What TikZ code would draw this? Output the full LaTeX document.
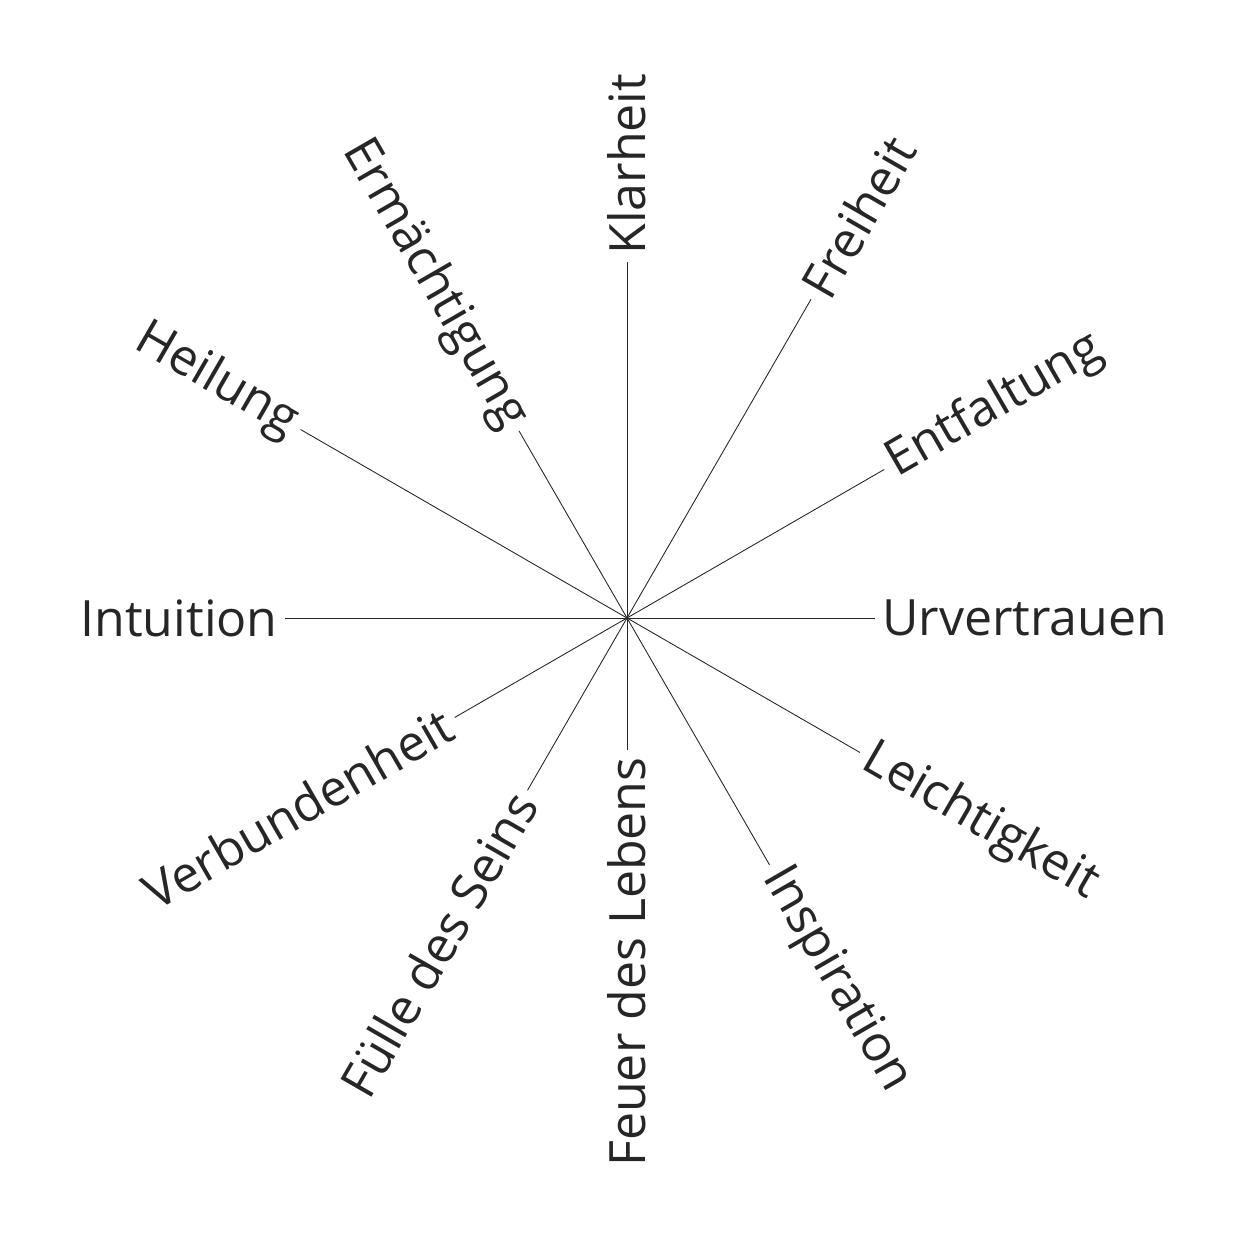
\documentclass[tikz,border=0pt]{standalone}
\usepackage{fontspec}
\setmainfont{Open Sans}
\usetikzlibrary{calc}
\tikzset{
  ray/.style={line width=0.5pt,black!85},
  word/.style={font=\fontsize{28.5}{34}\selectfont,text=black!85,inner sep=4pt},
}
\begin{document}
\begin{tikzpicture}[x=0.02cm,y=0.02cm]
    \useasboundingbox (0,0) rectangle (1250,1250);
    \coordinate (M) at (627,632);

    % right half: text reads outward
    \foreach \name/\ang/\len/\txt in {kla/90/356/Klarheit, fre/60/368/Freiheit,
        ent/30/297/Entfaltung, urv/0/248/Urvertrauen, lei/-30/269/Leichtigkeit,
        ins/-60/285/Inspiration}{
      \coordinate (e-\name) at ($(M)+(\ang:\len)$);
      \draw[ray] (M) -- (e-\name);
      \node[word,rotate=\ang,anchor=west] (t-\name) at (e-\name) {\txt};
    }

    % left half: text reads inward
    \foreach \name/\ang/\len/\txt in {feu/-90/132/Feuer des Lebens,
        fue/-120/199/Fülle des Seins, ver/-150/199/Verbundenheit,
        int/180/342/Intuition, hei/150/377/Heilung, erm/120/216/Ermächtigung}{
      \coordinate (e-\name) at ($(M)+(\ang:\len)$);
      \draw[ray] (M) -- (e-\name);
      \node[word,rotate=\ang+180,anchor=east] (t-\name) at (e-\name) {\txt};
    }
\end{tikzpicture}
\end{document}
